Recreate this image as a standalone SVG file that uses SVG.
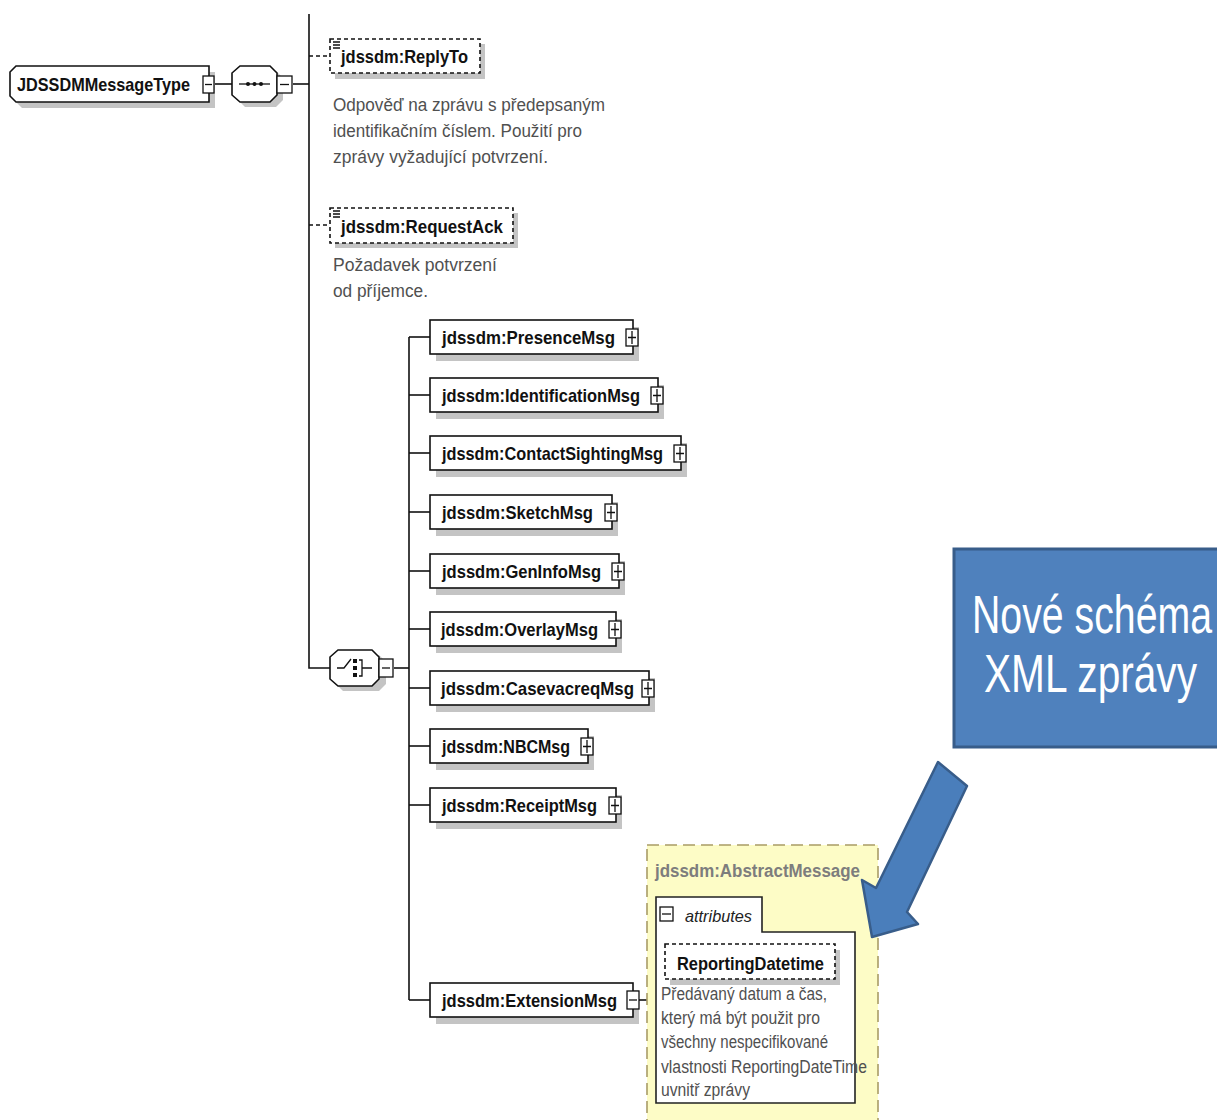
<svg xmlns="http://www.w3.org/2000/svg" width="1217" height="1120" viewBox="0 0 1217 1120">
  <style>
    .lbl { font-family: "Liberation Sans", Arial, sans-serif; font-weight: bold; font-size: 18.5px; fill: #111; }
    .doc { font-family: "Liberation Sans", Arial, sans-serif; font-size: 17.5px; fill: #505050; }
    .box { fill: #fff; stroke: #111; stroke-width: 1.6; }
    .dbox { fill: #fff; stroke: #111; stroke-width: 1.6; stroke-dasharray: 4 3; }
    .shadow { fill: #c4c4c4; }
    .wire { fill: none; stroke: #111; stroke-width: 1.6; }
    .dwire { fill: none; stroke: #111; stroke-width: 1.6; stroke-dasharray: 4 3; }
    .btn { fill: #fff; stroke: #111; stroke-width: 1.3; }
    .sign { stroke: #111; stroke-width: 1.3; fill: none; }
  </style>

  <rect width="1217" height="1120" fill="#ffffff"/>

  <!-- connectors -->
  <g id="connectors">
    <line class="wire" x1="213" y1="84" x2="232" y2="84"/>
    <line class="wire" x1="293" y1="84" x2="309" y2="84"/>
    <polyline class="wire" points="309,14 309,668 330,668"/>
    <line class="dwire" x1="309" y1="56" x2="330" y2="56"/>
    <line class="dwire" x1="309" y1="225" x2="330" y2="225"/>
    <line class="wire" x1="394" y1="668" x2="409" y2="668"/>
    <line class="wire" x1="409" y1="337" x2="409" y2="1000"/>
    <line class="wire" x1="409" y1="337" x2="430" y2="337"/>
    <line class="wire" x1="409" y1="395" x2="430" y2="395"/>
    <line class="wire" x1="409" y1="453" x2="430" y2="453"/>
    <line class="wire" x1="409" y1="512" x2="430" y2="512"/>
    <line class="wire" x1="409" y1="571" x2="430" y2="571"/>
    <line class="wire" x1="409" y1="629" x2="430" y2="629"/>
    <line class="wire" x1="409" y1="688" x2="430" y2="688"/>
    <line class="wire" x1="409" y1="746" x2="430" y2="746"/>
    <line class="wire" x1="409" y1="805" x2="430" y2="805"/>
    <line class="wire" x1="409" y1="1000" x2="430" y2="1000"/>
    <line class="wire" x1="639" y1="1000" x2="656" y2="1000"/>
  </g>

  <!-- root complex type -->
  <g id="root">
    <path class="shadow" d="M22,72 H215 V108 H22 L16,102 V78 Z"/>
    <path class="box" d="M16,66 H209 V102 H16 L10,96 V72 Z"/>
    <text class="lbl" x="17" y="91" textLength="173" lengthAdjust="spacingAndGlyphs">JDSSDMMessageType</text>
    <rect class="btn" x="203" y="76" width="11" height="17"/>
    <line class="sign" x1="205" y1="84.5" x2="212" y2="84.5"/>
  </g>

  <!-- sequence compositor -->
  <g id="sequence">
    <path class="shadow" d="M245,71 H276 L283,78 V100 L276,107 H245 L238,100 V78 Z"/>
    <path class="box" d="M240,66 H270 L277,73 V95 L270,102 H240 L232,95 V73 Z"/>
    <line class="sign" x1="239" y1="84" x2="270" y2="84"/>
    <circle cx="248" cy="84" r="2" fill="#111"/>
    <circle cx="254.5" cy="84" r="2" fill="#111"/>
    <circle cx="261" cy="84" r="2" fill="#111"/>
    <rect class="btn" x="277" y="76" width="15" height="17"/>
    <line class="sign" x1="280" y1="84.5" x2="289" y2="84.5"/>
  </g>

  <!-- optional element ReplyTo -->
  <g id="replyTo">
    <rect class="shadow" x="335" y="44" width="150" height="35"/>
    <rect class="dbox" x="330" y="39" width="150" height="34"/>
    <path class="sign" d="M333,42 h7 M333,45 h7 M333,48 h7"/>
    <text class="lbl" x="341" y="63" textLength="127" lengthAdjust="spacingAndGlyphs">jdssdm:ReplyTo</text>
    <text class="doc" x="333" y="111" textLength="272" lengthAdjust="spacingAndGlyphs">Odpověď na zprávu s předepsaným</text>
    <text class="doc" x="333" y="137" textLength="249" lengthAdjust="spacingAndGlyphs">identifikačním číslem. Použití pro</text>
    <text class="doc" x="333" y="163" textLength="215" lengthAdjust="spacingAndGlyphs">zprávy vyžadující potvrzení.</text>
  </g>

  <!-- optional element RequestAck -->
  <g id="requestAck">
    <rect class="shadow" x="335" y="213" width="183" height="35"/>
    <rect class="dbox" x="330" y="208" width="183" height="35"/>
    <path class="sign" d="M333,211 h7 M333,214 h7 M333,217 h7"/>
    <text class="lbl" x="341" y="233" textLength="162" lengthAdjust="spacingAndGlyphs">jdssdm:RequestAck</text>
    <text class="doc" x="333" y="271" textLength="164" lengthAdjust="spacingAndGlyphs">Požadavek potvrzení</text>
    <text class="doc" x="333" y="297" textLength="95" lengthAdjust="spacingAndGlyphs">od příjemce.</text>
  </g>

  <!-- choice compositor -->
  <g id="choice">
    <path class="shadow" d="M343,655 H379 L386,662 V684 L379,691 H343 L336,684 V662 Z"/>
    <path class="box" d="M338,650 H372 L379,657 V679 L372,686 H338 L330,679 V657 Z"/>
    <polyline class="sign" points="337,668 344,668 351,659"/>
    <rect x="353" y="659" width="4" height="4" fill="#111"/>
    <rect x="353" y="666" width="4" height="4" fill="#111"/>
    <rect x="353" y="673" width="4" height="4" fill="#111"/>
    <path class="sign" d="M359,660 h3 v16 h-3 M362,668 h10"/>
    <rect class="btn" x="379" y="659" width="14" height="18"/>
    <line class="sign" x1="382" y1="668" x2="390" y2="668"/>
  </g>

  <!-- choice members -->
  <g id="presenceMsg">
    <rect class="shadow" x="436" y="327" width="203" height="34"/>
    <rect class="box" x="430" y="320" width="203" height="34"/>
    <text class="lbl" x="442" y="344" textLength="173" lengthAdjust="spacingAndGlyphs">jdssdm:PresenceMsg</text>
    <rect class="btn" x="626" y="329" width="12" height="17"/>
    <path class="sign" d="M628,337.5 h8 M632,331 v13"/>
  </g>
  <g id="identificationMsg">
    <rect class="shadow" x="436" y="385" width="228" height="34"/>
    <rect class="box" x="430" y="378" width="228" height="34"/>
    <text class="lbl" x="442" y="402" textLength="198" lengthAdjust="spacingAndGlyphs">jdssdm:IdentificationMsg</text>
    <rect class="btn" x="651" y="387" width="12" height="17"/>
    <path class="sign" d="M653,395.5 h8 M657,389 v13"/>
  </g>
  <g id="contactSightingMsg">
    <rect class="shadow" x="436" y="443" width="251" height="34"/>
    <rect class="box" x="430" y="436" width="251" height="34"/>
    <text class="lbl" x="442" y="460" textLength="221" lengthAdjust="spacingAndGlyphs">jdssdm:ContactSightingMsg</text>
    <rect class="btn" x="674" y="445" width="12" height="17"/>
    <path class="sign" d="M676,453.5 h8 M680,447 v13"/>
  </g>
  <g id="sketchMsg">
    <rect class="shadow" x="436" y="502" width="182" height="34"/>
    <rect class="box" x="430" y="495" width="182" height="34"/>
    <text class="lbl" x="442" y="519" textLength="151" lengthAdjust="spacingAndGlyphs">jdssdm:SketchMsg</text>
    <rect class="btn" x="605" y="504" width="12" height="17"/>
    <path class="sign" d="M607,512.5 h8 M611,506 v13"/>
  </g>
  <g id="genInfoMsg">
    <rect class="shadow" x="436" y="561" width="189" height="34"/>
    <rect class="box" x="430" y="554" width="189" height="34"/>
    <text class="lbl" x="442" y="578" textLength="159" lengthAdjust="spacingAndGlyphs">jdssdm:GenInfoMsg</text>
    <rect class="btn" x="612" y="563" width="12" height="17"/>
    <path class="sign" d="M614,571.5 h8 M618,565 v13"/>
  </g>
  <g id="overlayMsg">
    <rect class="shadow" x="436" y="619" width="186" height="34"/>
    <rect class="box" x="430" y="612" width="186" height="34"/>
    <text class="lbl" x="441" y="636" textLength="157" lengthAdjust="spacingAndGlyphs">jdssdm:OverlayMsg</text>
    <rect class="btn" x="609" y="621" width="12" height="17"/>
    <path class="sign" d="M611,629.5 h8 M615,623 v13"/>
  </g>
  <g id="casevacreqMsg">
    <rect class="shadow" x="436" y="678" width="219" height="34"/>
    <rect class="box" x="430" y="671" width="219" height="34"/>
    <text class="lbl" x="441" y="695" textLength="193" lengthAdjust="spacingAndGlyphs">jdssdm:CasevacreqMsg</text>
    <rect class="btn" x="642" y="680" width="12" height="17"/>
    <path class="sign" d="M644,688.5 h8 M648,682 v13"/>
  </g>
  <g id="nbcMsg">
    <rect class="shadow" x="436" y="736" width="158" height="34"/>
    <rect class="box" x="430" y="729" width="158" height="34"/>
    <text class="lbl" x="442" y="753" textLength="128" lengthAdjust="spacingAndGlyphs">jdssdm:NBCMsg</text>
    <rect class="btn" x="581" y="738" width="12" height="17"/>
    <path class="sign" d="M583,746.5 h8 M587,740 v13"/>
  </g>
  <g id="receiptMsg">
    <rect class="shadow" x="436" y="795" width="186" height="34"/>
    <rect class="box" x="430" y="788" width="186" height="34"/>
    <text class="lbl" x="442" y="812" textLength="155" lengthAdjust="spacingAndGlyphs">jdssdm:ReceiptMsg</text>
    <rect class="btn" x="609" y="797" width="12" height="17"/>
    <path class="sign" d="M611,805.5 h8 M615,799 v13"/>
  </g>
  <g id="extensionMsg">
    <rect class="shadow" x="436" y="990" width="203" height="34"/>
    <rect class="box" x="430" y="983" width="203" height="34"/>
    <text class="lbl" x="442" y="1007" textLength="175" lengthAdjust="spacingAndGlyphs">jdssdm:ExtensionMsg</text>
    <rect class="btn" x="627" y="991" width="12" height="18"/>
    <line class="sign" x1="629" y1="1000" x2="637" y2="1000"/>
  </g>

  <!-- abstract base type with its attributes -->
  <g id="abstractMessage">
    <rect x="647" y="845" width="231" height="290" fill="#fdfcc6" stroke="#a99c66" stroke-width="1.6" stroke-dasharray="12 6"/>
    <text x="655" y="877" font-family="'Liberation Sans', Arial, sans-serif" font-weight="bold" font-size="18px" fill="#7d7d7d" textLength="205" lengthAdjust="spacingAndGlyphs">jdssdm:AbstractMessage</text>
    <path d="M656,1103 V897 H762 V932 H855 V1103 Z" fill="#fff" stroke="#222" stroke-width="1.6"/>
    <rect class="btn" x="660" y="907" width="13" height="14"/>
    <line class="sign" x1="662" y1="914" x2="671" y2="914"/>
    <text x="685" y="922" font-family="'Liberation Sans', Arial, sans-serif" font-style="italic" font-size="17px" fill="#222" textLength="67" lengthAdjust="spacingAndGlyphs">attributes</text>
  </g>
  <g id="reportingDatetime">
    <rect class="shadow" x="670" y="950" width="170" height="35"/>
    <rect class="dbox" x="665" y="944" width="170" height="35"/>
    <text class="lbl" x="677" y="970" textLength="147" lengthAdjust="spacingAndGlyphs">ReportingDatetime</text>
    <text class="doc" x="661" y="1000" font-size="16.5px" textLength="166" lengthAdjust="spacingAndGlyphs">Předávaný datum a čas,</text>
    <text class="doc" x="661" y="1024" font-size="16.5px" textLength="159" lengthAdjust="spacingAndGlyphs">který má být použit pro</text>
    <text class="doc" x="661" y="1048" font-size="16.5px" textLength="167" lengthAdjust="spacingAndGlyphs">všechny nespecifikované</text>
    <text class="doc" x="661" y="1073" font-size="16.5px" textLength="206" lengthAdjust="spacingAndGlyphs">vlastnosti ReportingDateTime</text>
    <text class="doc" x="661" y="1096" font-size="16.5px" textLength="89" lengthAdjust="spacingAndGlyphs">uvnitř zprávy</text>
  </g>

  <!-- callout -->
  <g id="callout">
    <rect x="954" y="549" width="280" height="198" fill="#4f81bd" stroke="#385d8a" stroke-width="3"/>
    <text x="972" y="633" font-family="'Liberation Sans', Arial, sans-serif" font-size="54px" fill="#fff" textLength="240" lengthAdjust="spacingAndGlyphs">Nové schéma</text>
    <text x="984" y="692" font-family="'Liberation Sans', Arial, sans-serif" font-size="54px" fill="#fff" textLength="213" lengthAdjust="spacingAndGlyphs">XML zprávy</text>
  </g>
  <g id="calloutArrow">
    <polygon points="938,762 967,786 907,912 918,924 872,937 862,880 876,888" fill="#4a7ebb" stroke="#385d8a" stroke-width="2.5" stroke-linejoin="round"/>
  </g>
</svg>
